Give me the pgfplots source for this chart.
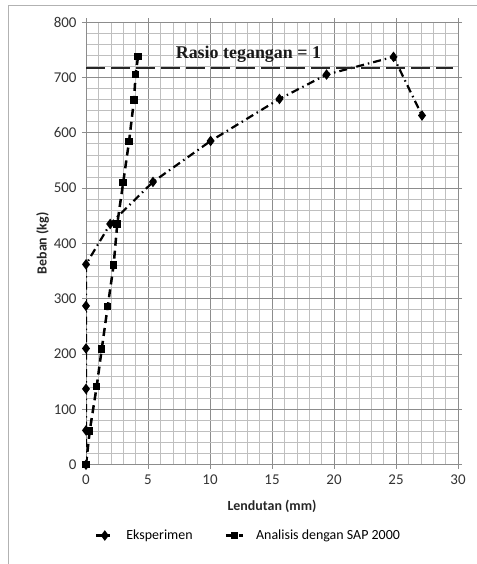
\documentclass[border=0pt]{standalone}
\usepackage{pgfplots}
\pgfplotsset{compat=1.18}
\usepackage{fontspec}
\setmainfont{Carlito}
\newfontfamily\serifbold{Liberation Serif}
\begin{document}
\begin{tikzpicture}
\path[use as bounding box] (0,0) rectangle (477bp,564bp);
\draw[black!30, line width=1bp] (8bp,0) -- (8bp,558bp) -- (477bp,558bp);
\begin{axis}[
  at={(86bp,99.3bp)}, anchor=south west,
  scale only axis, width=372bp, height=442.7bp,
  xmin=0, xmax=30, ymin=0, ymax=800,
  xtick={0,5,...,30}, ytick={0,100,...,800},
  minor x tick num=4, minor y tick num=4,
  grid=both,
  major grid style={black!45, line width=0.7bp},
  minor grid style={black!25, line width=0.6bp},
  axis line style={black!45, line width=0.8bp},
  tick style={black!45, line width=0.8bp},
  tick align=outside, major tick length=4bp, minor tick length=0pt,
  tick label style={font=\fontsize{15}{17}\selectfont, text=black!80},
  xticklabel style={yshift=-3bp},
  yticklabel style={xshift=-2bp},
  /pgf/number format/assume math mode=true,
  xlabel={Lendutan (mm)}, ylabel={Beban (kg)},
  label style={font=\fontsize{14}{16}\selectfont\bfseries, text=black!85},
  xlabel style={yshift=-8bp},
  ylabel style={yshift=-2bp},
  legend style={at={(0.437,-0.16)}, anchor=center, draw=none, legend columns=2,
    font=\fontsize{14}{16}\selectfont,
    /tikz/every odd column/.append style={column sep=10bp},
    /tikz/every even column/.append style={column sep=30bp}},
  legend cell align=left,
]
\addplot[black, line width=2.2bp, dash pattern=on 8bp off 4bp on 1.5bp off 4bp,
  mark=diamond*, mark size=3.5bp, mark options={solid, fill=black}]
  coordinates {(0,0) (0,62) (0,137) (0,210) (0,287) (0,362) (1.95,435) (5.4,511) (10.05,585) (15.6,661) (19.4,705) (24.8,737) (27.1,631)};
\addlegendentry{Eksperimen}
\addplot[black, line width=2.5bp, dash pattern=on 8bp off 5bp,
  mark=square*, mark size=2.5bp, mark options={solid, fill=black}]
  coordinates {(0,0) (0.3,61) (0.86,141) (1.27,209) (1.75,286) (2.23,361) (2.52,435) (3.0,510) (3.47,584) (3.87,659) (4.0,705) (4.2,738)};
\addlegendentry{Analisis dengan SAP 2000}
\addplot[black!85, line width=1.8bp, dash pattern=on 19bp off 6bp, forget plot]
  coordinates {(0,717) (29.6,717)};
\node[font=\serifbold\fontsize{18}{20}\selectfont\bfseries, text=black!90] at (axis cs:13.1,741) {Rasio tegangan = 1};
\end{axis}
\end{tikzpicture}
\end{document}
